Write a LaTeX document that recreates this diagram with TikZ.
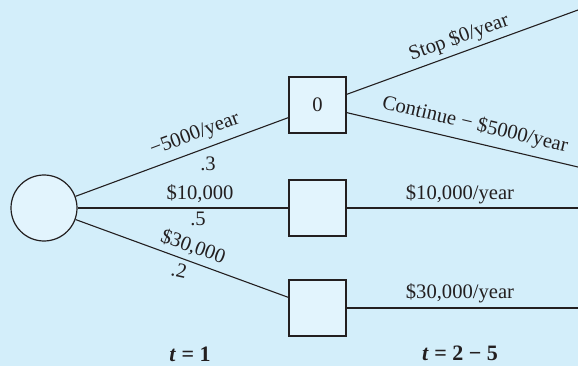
\documentclass[tikz,border=0pt]{standalone}
\usepackage{fontspec}
\setmainfont{Liberation Serif}
\definecolor{bgblue}{HTML}{D3EEFA}
\definecolor{fillblue}{HTML}{E2F4FD}
\definecolor{ink}{HTML}{231F20}
\begin{document}
\begin{tikzpicture}[x=1pt,y=-1pt,
  every node/.style={font=\fontsize{20.6}{24}\selectfont, text=ink},
  chance/.style={circle, draw=ink, line width=1.2pt, fill=fillblue, minimum size=66pt, inner sep=0pt},
  decision/.style={rectangle, draw=ink, line width=1.2pt, fill=fillblue, minimum width=57pt, minimum height=56pt, inner sep=0pt},
  branch/.style={draw=ink, line width=1.1pt},
  lbl/.style={inner sep=0pt},
  tlbl/.style={inner sep=0pt, font=\fontsize{22}{26}\selectfont\bfseries}]
\fill[bgblue] (0,0) rectangle (578,366);
\useasboundingbox (0,0) rectangle (578,366);
\node[chance] (c) at (44,208) {};
\node[decision] (b1) at (317.5,105) {0};
\node[decision] (b2) at (317.5,208) {};
\node[decision] (b3) at (317.5,308) {};
\coordinate (e1) at (578,10);
\coordinate (e2) at (578,167);
\coordinate (e3) at (578,208);
\coordinate (e4) at (578,308);
\coordinate (b1in) at ([yshift=16pt]b1.south west);
\coordinate (b3in) at ([yshift=-18pt]b3.north west);
\draw[branch] (c) -- (b1in);
\draw[branch] (c) -- (b2);
\draw[branch] (c) -- (b3in);
\draw[branch] ([yshift=-18pt]b1.north east) -- (e1);
\draw[branch] ([yshift=21pt]b1.south east) -- (e2);
\draw[branch] (b2) -- (e3);
\draw[branch] (b3) -- (e4);
\node[lbl, rotate=20.6] (l1) at (195,135) {−5000/year};
\node[lbl] (p1) at (208,164) {.3};
\node[lbl] (l2) at (200,194) {\$10,000};
\node[lbl] (p2) at (198,219) {.5};
\node[lbl, rotate=-20] (l3) at (193,247) {\$30,000};
\node[lbl, rotate=-12] (p3) at (179,271) {.2};
\node[lbl, rotate=20.1] (s1) at (459,38) {Stop \$0/year};
\node[lbl, rotate=-13.3] (s2) at (475,125) {Continue − \$5000/year};
\node[lbl] (s3) at (460,194) {\$10,000/year};
\node[lbl] (s4) at (460,293) {\$30,000/year};
\node[tlbl] (t1) at (190,354) {\textit{t} = 1};
\node[tlbl] (t2) at (460,353) {\textit{t} = 2 − 5};
\end{tikzpicture}
\end{document}
